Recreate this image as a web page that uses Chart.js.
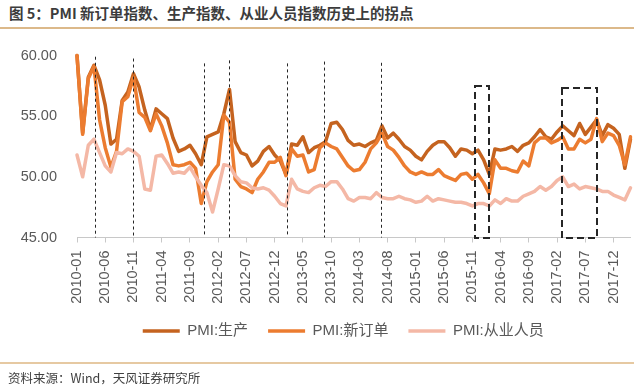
<!DOCTYPE html>
<html><head><meta charset="utf-8">
<script src="https://cdn.jsdelivr.net/npm/chart.js@4.4.1/dist/chart.umd.min.js"></script>
<style>
html,body{margin:0;padding:0;background:#fff;}
#wrap{position:relative;width:634px;height:388px;overflow:hidden;background:#fff;}
#title{position:absolute;left:9px;top:3px;font:700 14.5px "Noto Sans CJK SC",sans-serif;color:#3c3c3c;white-space:nowrap;line-height:20px;}
#tline{position:absolute;left:0;top:27px;width:634px;height:2px;background:#dcb98a;}
#fline{position:absolute;left:0;top:362px;width:634px;height:2px;background:#e6c9a2;}
#src{position:absolute;left:8px;top:369px;font:12.5px "Noto Sans CJK SC",sans-serif;color:#404040;line-height:18px;white-space:nowrap;}
canvas{position:absolute;left:0;top:0;}
</style></head>
<body><div id="wrap">
<div id="title">图 5：PMI 新订单指数、生产指数、从业人员指数历史上的拐点</div>
<div id="tline"></div>
<canvas id="c" width="634" height="388"></canvas>
<div id="fline"></div>
<div id="src">资料来源：Wind，天风证券研究所</div>
</div>
<script>
const months = [
'2010-01','2010-02','2010-03','2010-04','2010-05','2010-06','2010-07','2010-08','2010-09','2010-10','2010-11','2010-12',
'2011-01','2011-02','2011-03','2011-04','2011-05','2011-06','2011-07','2011-08','2011-09','2011-10','2011-11','2011-12',
'2012-01','2012-02','2012-03','2012-04','2012-05','2012-06','2012-07','2012-08','2012-09','2012-10','2012-11','2012-12',
'2013-01','2013-02','2013-03','2013-04','2013-05','2013-06','2013-07','2013-08','2013-09','2013-10','2013-11','2013-12',
'2014-01','2014-02','2014-03','2014-04','2014-05','2014-06','2014-07','2014-08','2014-09','2014-10','2014-11','2014-12',
'2015-01','2015-02','2015-03','2015-04','2015-05','2015-06','2015-07','2015-08','2015-09','2015-10','2015-11','2015-12',
'2016-01','2016-02','2016-03','2016-04','2016-05','2016-06','2016-07','2016-08','2016-09','2016-10','2016-11','2016-12',
'2017-01','2017-02','2017-03','2017-04','2017-05','2017-06','2017-07','2017-08','2017-09','2017-10','2017-11','2017-12',
'2018-01','2018-02','2018-03'];

const production = [
60.0,53.6,58.2,59.2,58.0,55.9,52.7,53.1,56.3,57.0,58.5,57.4,
55.5,53.9,55.6,55.2,54.8,53.2,52.1,52.3,52.6,51.9,51.0,53.3,
53.5,53.7,55.2,57.2,52.9,52.0,51.8,50.9,51.3,52.1,52.5,51.8,
51.3,50.2,52.7,52.6,53.3,52.0,52.4,52.6,52.9,54.4,54.5,53.9,
53.0,52.6,52.7,52.5,52.8,53.0,54.2,53.2,53.6,53.1,52.5,52.2,
51.7,51.4,52.1,52.6,52.9,52.9,52.4,51.7,52.3,52.2,51.9,52.2,
51.4,50.2,52.3,52.2,52.3,52.5,52.1,52.6,52.8,53.3,53.9,53.3,
53.1,53.7,54.2,53.8,53.4,54.4,53.5,54.1,54.7,53.4,54.3,54.0,
53.5,50.7,53.1];

const newOrders = [
60.0,53.5,58.1,59.1,54.7,52.4,50.8,52.1,56.2,56.6,58.2,55.3,
54.9,53.8,55.2,54.2,52.8,51.0,50.9,51.0,51.2,50.7,47.8,49.6,
50.4,51.0,55.1,54.5,49.8,49.2,49.0,48.7,49.8,50.4,51.2,51.2,
51.6,50.1,52.3,51.7,51.8,50.4,50.6,52.4,52.8,52.5,52.3,51.6,
50.9,50.5,50.6,51.2,52.3,52.8,53.6,52.5,52.2,51.6,50.9,50.4,
50.2,50.4,50.2,50.2,50.6,50.1,49.9,49.7,50.2,50.3,49.8,50.2,
49.5,48.6,51.4,50.7,50.7,50.5,50.4,51.3,50.9,52.8,53.2,53.2,
52.8,53.0,53.3,52.3,52.3,53.1,52.8,53.1,54.8,52.9,53.6,53.4,
52.6,51.0,53.3];

const employment = [
51.8,50.0,52.6,53.1,52.0,50.9,50.4,52.0,51.9,52.3,52.1,51.7,
49.0,48.9,51.7,51.8,51.1,50.3,50.4,50.3,50.8,50.0,49.3,48.7,
47.1,49.0,51.0,50.9,50.1,49.6,49.5,49.1,49.0,49.1,48.9,48.4,
47.8,47.6,49.8,49.0,48.8,48.7,49.1,49.3,49.2,49.6,49.6,49.0,
48.2,48.0,48.3,48.3,48.2,48.7,48.3,48.2,48.2,48.4,48.2,48.1,
47.9,48.0,48.4,48.0,48.2,48.1,48.0,47.9,47.9,47.8,47.6,47.8,
47.8,47.6,48.1,47.8,48.2,48.0,48.0,48.4,48.6,48.8,49.2,48.9,
49.2,49.7,50.0,49.2,49.4,49.0,49.2,49.1,49.0,48.8,48.8,48.5,
48.3,48.1,49.1];

const seriesNames = ['PMI:生产','PMI:新订单','PMI:从业人员'];
const yTicks = [45, 50, 55, 60];

// turning-point annotations, in data coordinates (month index, index value)
const turnLines = [3.2, 9.9, 22.5, 27.0, 37.25, 43.8, 53.8];
const turnLineTops = [59.9, 59.75, 59.35, 59.6, 59.35, 59.5, 59.4];
const boxStart = [70.45, 85.85];
const boxEnd = [73.0, 92.15];
const boxTop = [57.5, 57.35];

const FONT = '"Liberation Sans","Noto Sans CJK SC",sans-serif';
const colors = ['#c5631f', '#ec7c30', '#f4b8a6'];

const markers = {
  id: 'markers',
  afterLayout(chart) {
    // Excel centres the legend under the plot area rather than the whole canvas
    const shift = (chart.chartArea.left - 21) / 2;
    chart.legend.left += shift;
    chart.legend.right += shift;
  },
  afterDatasetsDraw(chart) {
    const {ctx, scales: {x, y}} = chart;
    ctx.save();
    ctx.strokeStyle = '#262626';
    ctx.lineWidth = 1;
    ctx.setLineDash([3, 3]);
    turnLines.forEach((m, i) => {
      const px = Math.round(x.getPixelForValue(m)) + 0.5;
      ctx.beginPath();
      ctx.moveTo(px, y.getPixelForValue(turnLineTops[i]));
      ctx.lineTo(px, y.getPixelForValue(yTicks[0]));
      ctx.stroke();
    });
    ctx.lineWidth = 2;
    ctx.setLineDash([7, 4]);
    boxStart.forEach((s, i) => {
      const x0 = Math.round(x.getPixelForValue(s));
      const x1 = Math.round(x.getPixelForValue(boxEnd[i]));
      const y0 = Math.round(y.getPixelForValue(boxTop[i]));
      const y1 = Math.round(y.getPixelForValue(yTicks[0]));
      ctx.strokeRect(x0, y0, x1 - x0, y1 - y0);
    });
    ctx.restore();
  }
};

const seriesData = [production, newOrders, employment];
new Chart(document.getElementById('c'), {
  type: 'line',
  data: {
    labels: months,
    datasets: seriesData.map((d, i) => ({
      label: seriesNames[i],
      data: d,
      borderColor: colors[i],
      backgroundColor: colors[i],
      borderWidth: 3.5,
      pointRadius: 0,
      tension: 0,
      borderJoinStyle: 'round',
      borderCapStyle: 'round',
      clip: false,
      order: 3 - i
    }))
  },
  options: {
    responsive: false,
    animation: false,
    devicePixelRatio: 1,
    layout: {padding: {top: 55.5, left: 0, right: 3.5, bottom: 39.5}},
    plugins: {
      tooltip: {enabled: false},
      legend: {
        position: 'bottom',
        labels: {
          boxWidth: 37,
          boxHeight: 3.5,
          padding: 20,
          color: '#595959',
          font: {family: FONT, size: 15},
          sort: (a, b) => a.datasetIndex - b.datasetIndex,
          generateLabels: (chart) => Chart.defaults.plugins.legend.labels.generateLabels(chart)
            .map(l => Object.assign(l, {lineWidth: 0, fillStyle: l.strokeStyle}))
        }
      }
    },
    scales: {
      x: {
        offset: false,
        grid: {display: true, drawOnChartArea: false, drawTicks: true, tickLength: 5, color: '#c8c8c8'},
        border: {display: true, color: '#c8c8c8', width: 1},
        ticks: {
          autoSkip: false,
          minRotation: 90,
          maxRotation: 90,
          padding: 8,
          color: '#595959',
          font: {family: FONT, size: 14.5},
          callback: (v, i) => (i % 5 === 0 ? months[i] : null)
        },
        afterFit: (s) => { s.height = 66; s.paddingLeft = 0; s.paddingRight = 0; }
      },
      y: {
        min: yTicks[0],
        max: yTicks[yTicks.length - 1],
        grid: {display: false, drawTicks: false},
        border: {display: false},
        afterBuildTicks: (s) => { s.ticks = yTicks.map(v => ({value: v})); },
        ticks: {
          padding: 20,
          color: '#595959',
          font: {family: FONT, size: 14.5},
          callback: (v) => Number(v).toFixed(2)
        },
        afterFit: (s) => { s.width = 77; }
      }
    }
  },
  plugins: [markers]
});
</script>
</body></html>
